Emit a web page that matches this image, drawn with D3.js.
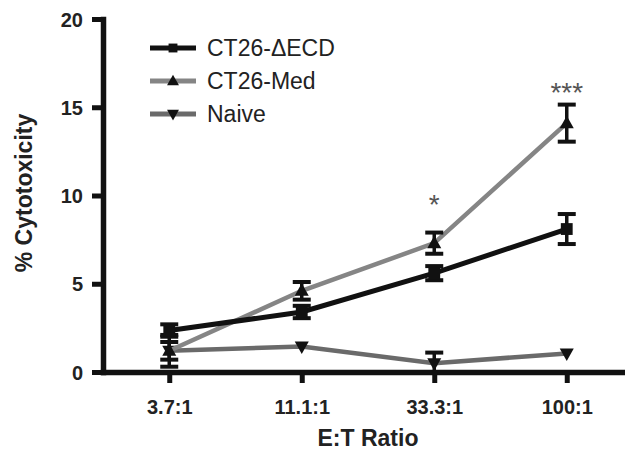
<!DOCTYPE html>
<html>
<head>
<meta charset="utf-8">
<script src="https://cdn.jsdelivr.net/npm/d3@7"></script>
<style>
  body { margin: 0; background: #fff; }
  svg { display: block; font-family: 'Liberation Sans', Arial, sans-serif; }
</style>
</head>
<body>
<div id="root"></div>
<script>
const categories = ['3.7:1', '11.1:1', '33.3:1', '100:1'];

const ecdMean = [2.35, 3.4, 5.6, 8.1];
const ecdErr = [0.35, 0.35, 0.4, 0.85];
const medMean = [1.2, 4.6, 7.3, 14.1];
const medErr = [0.5, 0.5, 0.6, 1.05];
const naiveMean = [1.2, 1.45, 0.5, 1.05];
const naiveErr = [0.9, 0, 0.6, 0];

const yTicks = [0, 5, 10, 15, 20];

const annotations = [
  { category: '33.3:1', value: 10.0, text: '*' },
  { category: '100:1', value: 16.3, text: '***' },
];

const series = [
  { name: 'CT26-\u0394ECD', mean: ecdMean, err: ecdErr, color: '#111', width: 5, symbol: 'square' },
  { name: 'CT26-Med', mean: medMean, err: medErr, color: '#858585', width: 4.5, symbol: 'up' },
  { name: 'Naive', mean: naiveMean, err: naiveErr, color: '#6a6a6a', width: 4.5, symbol: 'down' },
];

const width = 625;
const height = 450;

const svg = d3.select('#root').append('svg')
  .attr('width', width)
  .attr('height', height);

const x = d3.scalePoint()
  .domain(categories)
  .range([103, 633])
  .padding(0.5);

const y = d3.scaleLinear()
  .domain([0, 20])
  .range([372, 19]);

// axes
const yAxis = d3.axisLeft(y)
  .tickValues(yTicks)
  .tickSize(11)
  .tickSizeOuter(0)
  .tickPadding(9);

const yG = svg.append('g')
  .attr('transform', `translate(${x.range()[0]},0)`)
  .call(yAxis);

const xAxis = d3.axisBottom(x)
  .tickSize(11)
  .tickSizeOuter(0)
  .tickPadding(17);

const xG = svg.append('g')
  .attr('transform', `translate(0,${y(0)})`)
  .call(xAxis);

[yG, xG].forEach(g => {
  g.select('.domain').attr('stroke', '#111').attr('stroke-width', 5.5).attr('stroke-linecap', 'square');
  g.selectAll('.tick line').attr('stroke', '#111').attr('stroke-width', 5);
  g.selectAll('.tick text')
    .attr('fill', '#222')
    .attr('font-size', 20)
    .attr('font-weight', 'bold')
    .attr('font-family', "'Liberation Sans', Arial, sans-serif");
});
yG.selectAll('.tick text').attr('dy', '0.36em');

svg.append('text')
  .attr('x', 368)
  .attr('y', 446)
  .attr('text-anchor', 'middle')
  .attr('font-size', 23)
  .attr('font-weight', 'bold')
  .attr('fill', '#222')
  .text('E:T Ratio');

svg.append('text')
  .attr('transform', 'translate(32,193) rotate(-90)')
  .attr('text-anchor', 'middle')
  .attr('font-size', 23)
  .attr('font-weight', 'bold')
  .attr('fill', '#222')
  .text('% Cytotoxicity');

const symbolPath = {
  square: d3.symbol(d3.symbolSquare, 140)(),
  up: 'M0,-7.5L7,5L-7,5Z',
  down: 'M0,7.5L7,-5L-7,-5Z',
};

// series: line, error bars, symbols
const capHalf = 9;
series.slice().reverse().forEach(s => {
  const pts = categories.map((c, i) => ({ c, m: s.mean[i], e: s.err[i] }));
  const g = svg.append('g');

  g.append('path')
    .datum(pts)
    .attr('fill', 'none')
    .attr('stroke', s.color)
    .attr('stroke-width', s.width)
    .attr('d', d3.line().x(d => x(d.c)).y(d => y(d.m)));

  const eb = g.selectAll('.eb')
    .data(pts.filter(d => d.e > 0))
    .enter()
    .append('g')
    .attr('stroke', '#111');
  eb.append('line')
    .attr('x1', d => x(d.c)).attr('x2', d => x(d.c))
    .attr('y1', d => y(d.m + d.e)).attr('y2', d => y(Math.max(0, d.m - d.e)))
    .attr('stroke-width', 3.5);
  eb.append('line')
    .attr('x1', d => x(d.c) - capHalf).attr('x2', d => x(d.c) + capHalf)
    .attr('y1', d => y(d.m + d.e)).attr('y2', d => y(d.m + d.e))
    .attr('stroke-width', 4);
  eb.filter(d => d.m - d.e > 0).append('line')
    .attr('x1', d => x(d.c) - capHalf).attr('x2', d => x(d.c) + capHalf)
    .attr('y1', d => y(d.m - d.e)).attr('y2', d => y(d.m - d.e))
    .attr('stroke-width', 4);

  g.selectAll('.sym')
    .data(pts)
    .enter()
    .append('path')
    .attr('transform', d => `translate(${x(d.c)},${y(d.m)})`)
    .attr('d', symbolPath[s.symbol])
    .attr('fill', '#111');
});

// significance marks
svg.selectAll('.star')
  .data(annotations)
  .enter()
  .append('text')
  .attr('x', d => x(d.category))
  .attr('y', d => y(d.value) + 18)
  .attr('text-anchor', 'middle')
  .attr('font-size', 28)
  .attr('fill', '#555')
  .text(d => d.text);

// legend
const legend = svg.append('g');
const rows = legend.selectAll('g')
  .data(series)
  .enter()
  .append('g')
  .attr('transform', (d, i) => `translate(150,${48 + i * 33})`);

rows.append('line')
  .attr('x1', 0).attr('x2', 46)
  .attr('stroke', d => d.color)
  .attr('stroke-width', 5);

rows.append('path')
  .attr('transform', d => d.symbol === 'square' ? 'translate(23,0) scale(0.75)' : 'translate(23,0) scale(0.85)')
  .attr('d', d => symbolPath[d.symbol])
  .attr('fill', '#111');

rows.append('text')
  .attr('x', 57)
  .attr('y', 8)
  .attr('font-size', 23)
  .attr('fill', '#222')
  .text(d => d.name);
</script>
</body>
</html>
